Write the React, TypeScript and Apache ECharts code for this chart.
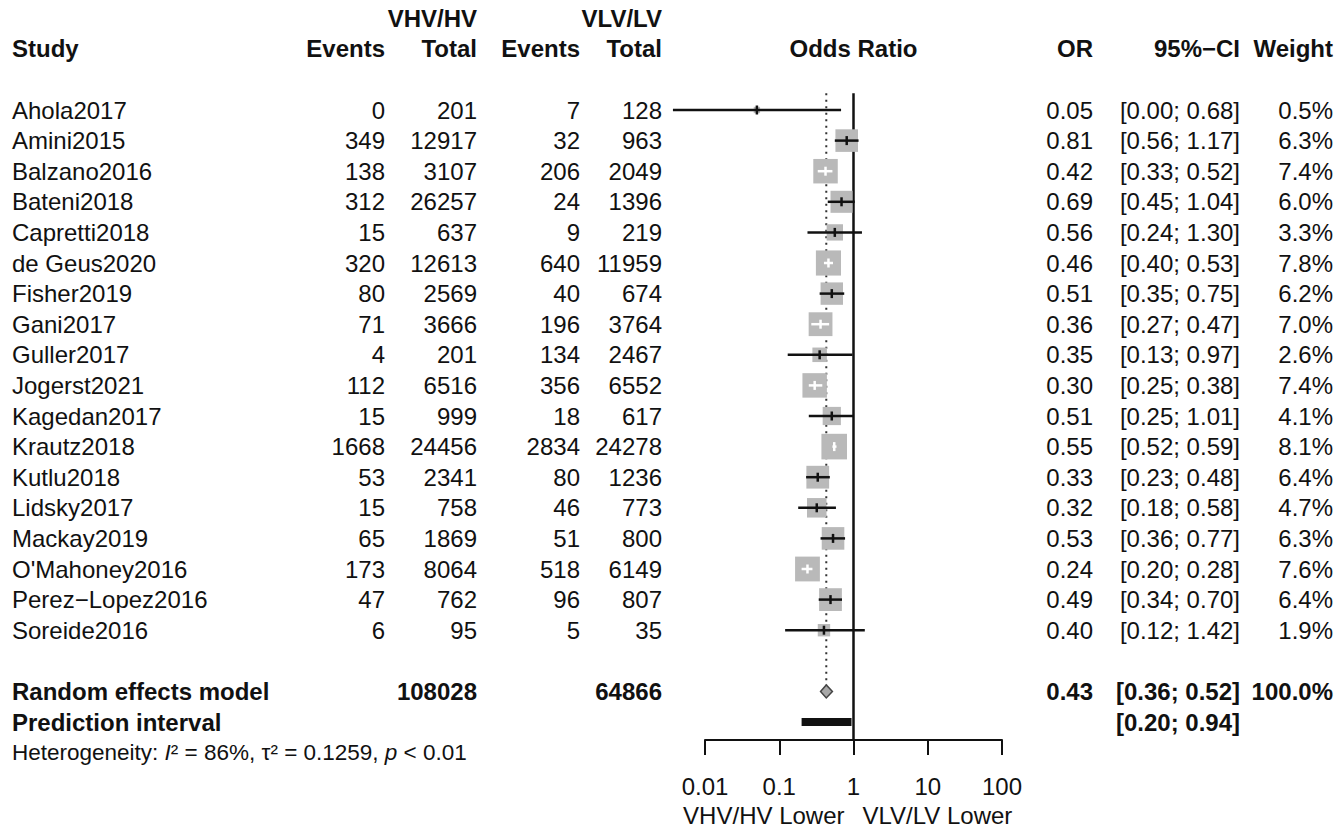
import React, { useEffect, useRef } from "react";
import * as echarts from "echarts";

// ---------- data ----------
const studies = [
  "Ahola2017", "Amini2015", "Balzano2016", "Bateni2018", "Capretti2018", "de Geus2020",
  "Fisher2019", "Gani2017", "Guller2017", "Jogerst2021", "Kagedan2017", "Krautz2018",
  "Kutlu2018", "Lidsky2017", "Mackay2019", "O'Mahoney2016", "Perez\u2212Lopez2016", "Soreide2016",
];
const eventsHV = [0, 349, 138, 312, 15, 320, 80, 71, 4, 112, 15, 1668, 53, 15, 65, 173, 47, 6];
const totalHV = [201, 12917, 3107, 26257, 637, 12613, 2569, 3666, 201, 6516, 999, 24456, 2341, 758, 1869, 8064, 762, 95];
const eventsLV = [7, 32, 206, 24, 9, 640, 40, 196, 134, 356, 18, 2834, 80, 46, 51, 518, 96, 5];
const totalLV = [128, 963, 2049, 1396, 219, 11959, 674, 3764, 2467, 6552, 617, 24278, 1236, 773, 800, 6149, 807, 35];
const oddsRatio = [0.05, 0.81, 0.42, 0.69, 0.56, 0.46, 0.51, 0.36, 0.35, 0.30, 0.51, 0.55, 0.33, 0.32, 0.53, 0.24, 0.49, 0.40];
const ciLow = [0.0037, 0.56, 0.33, 0.45, 0.24, 0.40, 0.35, 0.27, 0.13, 0.25, 0.25, 0.52, 0.23, 0.18, 0.36, 0.20, 0.34, 0.12];
const ciHigh = [0.68, 1.17, 0.52, 1.04, 1.30, 0.53, 0.75, 0.47, 0.97, 0.38, 1.01, 0.59, 0.48, 0.58, 0.77, 0.28, 0.70, 1.42];
const weights = [0.5, 6.3, 7.4, 6.0, 3.3, 7.8, 6.2, 7.0, 2.6, 7.4, 4.1, 8.1, 6.4, 4.7, 6.3, 7.6, 6.4, 1.9];

const pooledTotals = [108028, 64866];
const pooledEstimate = [0.43, 0.36, 0.52]; // OR, lower, upper
const predictionInterval = [0.20, 0.94];
const heterogeneity = { i2: "86%", tau2: "0.1259", p: "< 0.01" };

const xTicks = [0.01, 0.1, 1, 10, 100];
const xTickLabels = ["0.01", "0.1", "1", "10", "100"];
const sideLabels = ["VHV/HV Lower", "VLV/LV Lower"];

// ---------- layout ----------
const ROW0 = 110;
const ROWH = 30.6;
const AXIS_Y = 740;
const Y_MIN = -3.5;
const Y_MAX = (AXIS_Y - ROW0) / ROWH;
const GRID_TOP = ROW0 + Y_MIN * ROWH;
const X_LEFT = 705;
const X_RIGHT = 1002;
const RE_ROW = studies.length + 1;
const PI_ROW = RE_ROW + 1;
const HET_ROW = PI_ROW + 1;
const SIDE_ROW = (815 - ROW0) / ROWH;

const FONT = "'Liberation Sans', Arial, Helvetica, sans-serif";
const FS = 24;
const INK = "#111";
const BOX_COLOR = "#b9b9b9";
const BOX_SCALE = 9.0;

const COL = { study: 12, ev1: 385, tot1: 477, ev2: 580, tot2: 662, or: 1093, ci: 1240, w: 1333 };

type Cell = {
  t: string;
  x: number | "ref" | "refL" | "refR";
  align: "left" | "right" | "center";
  bold?: boolean;
  size?: number;
  rich?: any;
};
type Row = { row: number; cells: Cell[] };

const fmt2 = (v: number) => v.toFixed(2);

const tableRows: Row[] = [];
tableRows.push({
  row: -3,
  cells: [
    { t: "VHV/HV", x: COL.tot1, align: "right", bold: true },
    { t: "VLV/LV", x: COL.tot2, align: "right", bold: true },
  ],
});
tableRows.push({
  row: -2,
  cells: [
    { t: "Study", x: COL.study, align: "left", bold: true },
    { t: "Events", x: COL.ev1, align: "right", bold: true },
    { t: "Total", x: COL.tot1, align: "right", bold: true },
    { t: "Events", x: COL.ev2, align: "right", bold: true },
    { t: "Total", x: COL.tot2, align: "right", bold: true },
    { t: "Odds Ratio", x: "ref", align: "center", bold: true },
    { t: "OR", x: COL.or, align: "right", bold: true },
    { t: "95%\u2212CI", x: COL.ci, align: "right", bold: true },
    { t: "Weight", x: COL.w, align: "right", bold: true },
  ],
});
studies.forEach((s, i) => {
  tableRows.push({
    row: i,
    cells: [
      { t: s, x: COL.study, align: "left" },
      { t: String(eventsHV[i]), x: COL.ev1, align: "right" },
      { t: String(totalHV[i]), x: COL.tot1, align: "right" },
      { t: String(eventsLV[i]), x: COL.ev2, align: "right" },
      { t: String(totalLV[i]), x: COL.tot2, align: "right" },
      { t: fmt2(oddsRatio[i]), x: COL.or, align: "right" },
      { t: `[${fmt2(ciLow[i])}; ${fmt2(ciHigh[i])}]`, x: COL.ci, align: "right" },
      { t: `${weights[i].toFixed(1)}%`, x: COL.w, align: "right" },
    ],
  });
});
tableRows.push({
  row: RE_ROW,
  cells: [
    { t: "Random effects model", x: COL.study, align: "left", bold: true },
    { t: String(pooledTotals[0]), x: COL.tot1, align: "right", bold: true },
    { t: String(pooledTotals[1]), x: COL.tot2, align: "right", bold: true },
    { t: fmt2(pooledEstimate[0]), x: COL.or, align: "right", bold: true },
    { t: `[${fmt2(pooledEstimate[1])}; ${fmt2(pooledEstimate[2])}]`, x: COL.ci, align: "right", bold: true },
    { t: "100.0%", x: COL.w, align: "right", bold: true },
  ],
});
tableRows.push({
  row: PI_ROW,
  cells: [
    { t: "Prediction interval", x: COL.study, align: "left", bold: true },
    { t: `[${fmt2(predictionInterval[0])}; ${fmt2(predictionInterval[1])}]`, x: COL.ci, align: "right", bold: true },
  ],
});
tableRows.push({
  row: HET_ROW,
  cells: [
    {
      t: `Heterogeneity: {it|I}\u00b2 = ${heterogeneity.i2}, \u03c4\u00b2 = ${heterogeneity.tau2}, {it|p} ${heterogeneity.p}`,
      x: COL.study,
      align: "left",
      size: 22.5,
      rich: { it: { fontStyle: "italic", fontSize: 22.5, fontFamily: FONT, fill: INK } },
    },
  ],
});
tableRows.push({
  row: SIDE_ROW,
  cells: [
    { t: sideLabels[0], x: "refL", align: "right" },
    { t: sideLabels[1], x: "refR", align: "left" },
  ],
});

export default function App() {
  const ref = useRef<HTMLDivElement | null>(null);

  useEffect(() => {
    if (!ref.current) return;
    const chart = echarts.init(ref.current, undefined, { renderer: "svg" });

    const option: any = {
      animation: false,
      backgroundColor: "#ffffff",
      grid: {
        left: X_LEFT,
        top: GRID_TOP,
        width: X_RIGHT - X_LEFT,
        height: AXIS_Y - GRID_TOP,
        containLabel: false,
      },
      xAxis: {
        type: "log",
        logBase: 10,
        min: xTicks[0],
        max: xTicks[xTicks.length - 1],
        position: "bottom",
        axisLine: { show: true, onZero: false, lineStyle: { color: INK, width: 2 } },
        axisTick: { show: true, inside: false, length: 15, lineStyle: { color: INK, width: 2 } },
        minorTick: { show: false },
        splitLine: { show: false },
        axisLabel: {
          color: INK,
          fontSize: FS,
          fontFamily: FONT,
          margin: 34,
          formatter: (v: number) => {
            const k = xTicks.findIndex((t) => Math.abs(Math.log10(t) - Math.log10(v)) < 1e-6);
            return k >= 0 ? xTickLabels[k] : "";
          },
        },
      },
      yAxis: { type: "value", inverse: true, min: Y_MIN, max: Y_MAX, show: false },
      series: [
        // reference lines, pooled diamond, prediction interval
        {
          type: "custom",
          clip: false,
          z: 1,
          data: [[1, 0]],
          encode: { x: 0, y: 1 },
          renderItem: (_p: any, api: any) => {
            const top = api.coord([1, -0.55])[1];
            const bottom = api.coord([1, Y_MAX])[1];
            const refX = api.coord([1, 0])[0];
            const [pX, reY] = api.coord([pooledEstimate[0], RE_ROW]);
            const dl = api.coord([pooledEstimate[1], RE_ROW])[0];
            const dh = api.coord([pooledEstimate[2], RE_ROW])[0];
            const [piL, piY] = api.coord([predictionInterval[0], PI_ROW]);
            const piH = api.coord([predictionInterval[1], PI_ROW])[0];
            const dH = 6.5;
            return {
              type: "group",
              children: [
                {
                  type: "line",
                  shape: { x1: pX, y1: top, x2: pX, y2: reY - dH },
                  style: { stroke: "#333", lineWidth: 2, lineDash: [2, 4.5] },
                },
                {
                  type: "line",
                  shape: { x1: refX, y1: top, x2: refX, y2: bottom },
                  style: { stroke: INK, lineWidth: 2.5 },
                },
                {
                  type: "polygon",
                  shape: { points: [[dl, reY], [pX, reY - dH], [dh, reY], [pX, reY + dH]] },
                  style: { fill: "#a8a8a8", stroke: "#444", lineWidth: 1.5 },
                },
                {
                  type: "rect",
                  shape: { x: piL, y: piY - 4, width: piH - piL, height: 8 },
                  style: { fill: INK },
                },
              ],
            };
          },
        },
        // study squares and confidence intervals
        {
          type: "custom",
          clip: false,
          z: 2,
          data: studies.map((_, i) => [oddsRatio[i], i, ciLow[i], ciHigh[i]]),
          encode: { x: [0, 2, 3], y: 1 },
          renderItem: (p: any, api: any) => {
            const i = p.dataIndex;
            const [cx, cy] = api.coord([oddsRatio[i], i]);
            const xl = api.coord([ciLow[i], i])[0];
            const xh = api.coord([ciHigh[i], i])[0];
            const side = BOX_SCALE * Math.sqrt(weights[i]);
            const inside = xl >= cx - side / 2 && xh <= cx + side / 2;
            const col = inside ? "#ffffff" : INK;
            return {
              type: "group",
              children: [
                {
                  type: "rect",
                  shape: { x: cx - side / 2, y: cy - side / 2, width: side, height: side },
                  style: { fill: BOX_COLOR },
                },
                {
                  type: "line",
                  shape: { x1: xl, y1: cy, x2: xh, y2: cy },
                  style: { stroke: col, lineWidth: 2.5 },
                },
                {
                  type: "line",
                  shape: { x1: cx, y1: cy - 4.5, x2: cx, y2: cy + 4.5 },
                  style: { stroke: col, lineWidth: 2.5 },
                },
              ],
            };
          },
        },
        // table text
        {
          type: "custom",
          clip: false,
          z: 3,
          data: tableRows.map((r) => [1, r.row]),
          encode: { x: 0, y: 1 },
          renderItem: (p: any, api: any) => {
            const r = tableRows[p.dataIndex];
            const [refX, y] = api.coord([1, r.row]);
            return {
              type: "group",
              children: r.cells.map((c) => {
                const x =
                  typeof c.x === "number" ? c.x : c.x === "ref" ? refX : c.x === "refL" ? refX - 9 : refX + 9;
                const style: any = {
                  text: c.t,
                  x: 0,
                  y: 0,
                  fill: INK,
                  fontSize: c.size || FS,
                  fontFamily: FONT,
                  fontWeight: c.bold ? "bold" : "normal",
                  align: c.align,
                  verticalAlign: "middle",
                };
                if (c.rich) style.rich = c.rich;
                return { type: "text", x, y, style };
              }),
            };
          },
        },
      ],
    };

    chart.setOption(option);
    return () => chart.dispose();
  }, []);

  return (
    <div
      ref={ref}
      style={{ position: "fixed", left: 0, top: 0, width: 1343, height: 830, background: "#fff" }}
    />
  );
}
